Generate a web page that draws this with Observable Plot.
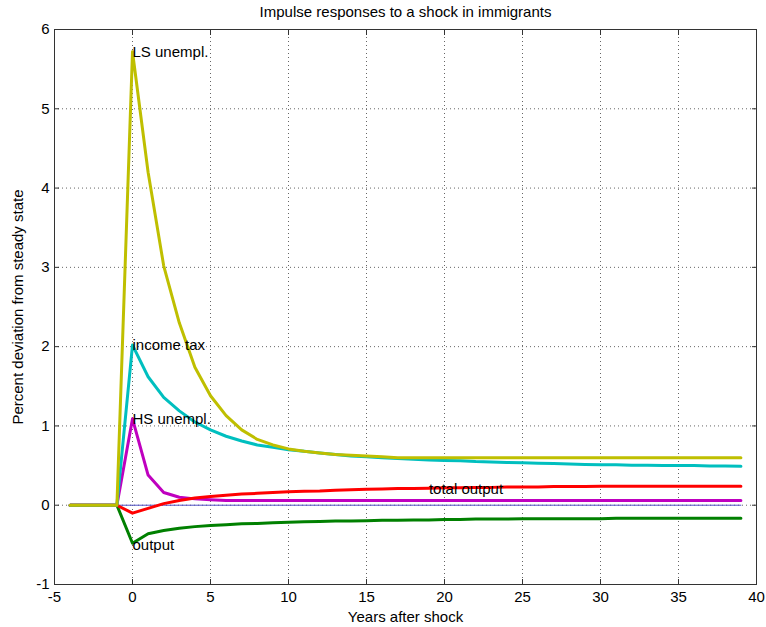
<!DOCTYPE html>
<html>
<head>
<meta charset="utf-8">
<script src="https://cdn.jsdelivr.net/npm/d3@7"></script>
<script src="https://cdn.jsdelivr.net/npm/@observablehq/plot@0.6"></script>
<style>
  html, body { margin: 0; padding: 0; background: #fff; }
  svg text { font-family: "Liberation Sans", Arial, sans-serif; }
</style>
</head>
<body>
<div id="chart"></div>
<script>
const title = "Impulse responses to a shock in immigrants";
const xLabel = "Years after shock";
const yLabel = "Percent deviation from steady state";
const xTicks = [-5, 0, 5, 10, 15, 20, 25, 30, 35, 40];
const yTicks = [-1, 0, 1, 2, 3, 4, 5, 6];

const years = [-4,-3,-2,-1,0,1,2,3,4,5,6,7,8,9,10,11,12,13,14,15,16,17,18,19,20,21,22,23,24,25,26,27,28,29,30,31,32,33,34,35,36,37,38,39];

const lsUnempl = [0,0,0,0,5.72,4.2,3.02,2.3,1.74,1.38,1.13,0.95,0.83,0.76,0.71,0.68,0.66,0.64,0.63,0.62,0.61,0.6,0.6,0.6,0.6,0.6,0.6,0.6,0.6,0.6,0.6,0.6,0.6,0.6,0.6,0.6,0.6,0.6,0.6,0.6,0.6,0.6,0.6,0.6];
const incomeTax = [0,0,0,0,2.02,1.62,1.36,1.19,1.05,0.95,0.87,0.81,0.76,0.73,0.7,0.68,0.66,0.64,0.62,0.61,0.6,0.59,0.58,0.57,0.565,0.56,0.55,0.545,0.54,0.535,0.53,0.525,0.52,0.515,0.51,0.51,0.505,0.505,0.5,0.5,0.5,0.495,0.495,0.49];
const hsUnempl = [0,0,0,0,1.09,0.38,0.16,0.1,0.08,0.07,0.06,0.06,0.06,0.06,0.06,0.06,0.06,0.06,0.06,0.06,0.06,0.06,0.06,0.06,0.06,0.06,0.06,0.06,0.06,0.06,0.06,0.06,0.06,0.06,0.06,0.06,0.06,0.06,0.06,0.06,0.06,0.06,0.06,0.06];
const totalOutput = [0,0,0,0,-0.1,-0.04,0.02,0.06,0.09,0.11,0.125,0.14,0.15,0.16,0.17,0.175,0.18,0.19,0.195,0.2,0.205,0.21,0.21,0.215,0.22,0.22,0.225,0.225,0.23,0.23,0.23,0.235,0.235,0.235,0.24,0.24,0.24,0.24,0.24,0.24,0.24,0.24,0.24,0.24];
const output = [0,0,0,0,-0.48,-0.36,-0.32,-0.29,-0.27,-0.255,-0.245,-0.235,-0.23,-0.22,-0.215,-0.21,-0.205,-0.2,-0.2,-0.195,-0.19,-0.19,-0.185,-0.185,-0.18,-0.18,-0.175,-0.175,-0.175,-0.17,-0.17,-0.17,-0.17,-0.17,-0.17,-0.165,-0.165,-0.165,-0.165,-0.165,-0.165,-0.165,-0.165,-0.165];
const zeroLine = years.map(() => 0);

const labelText = ["LS unempl.", "income tax", "HS unempl.", "output", "total output"];
const labelX = [0, 0, 0, 0, 19];
const labelY = [5.72, 2.02, 1.09, -0.5, 0.2];

const labels = labelText.map((t, i) => ({t, x: labelX[i], y: labelY[i]}));
const fmt = d => String(d);

const chart = Plot.plot({
  width: 766,
  height: 627,
  marginLeft: 54,
  marginRight: 10,
  marginTop: 29,
  marginBottom: 43,
  x: {domain: [-5, 40]},
  y: {domain: [-1, 6]},
  style: {fontFamily: "'Liberation Sans', Arial, sans-serif", fontSize: "15px", color: "#000", background: "#fff"},
  marks: [
    Plot.gridX(xTicks, {stroke: "#666", strokeOpacity: 1, strokeDasharray: "1,3"}),
    Plot.gridY(yTicks, {stroke: "#666", strokeOpacity: 1, strokeDasharray: "1,3"}),
    Plot.lineY(zeroLine, {x: years, stroke: "#5050c8", strokeWidth: 1}),
    Plot.lineY(output, {x: years, stroke: "#008000", strokeWidth: 3}),
    Plot.lineY(hsUnempl, {x: years, stroke: "#bf00bf", strokeWidth: 3}),
    Plot.lineY(totalOutput, {x: years, stroke: "#ff0000", strokeWidth: 3}),
    Plot.lineY(incomeTax, {x: years, stroke: "#00bfbf", strokeWidth: 3}),
    Plot.lineY(lsUnempl, {x: years, stroke: "#bfbf00", strokeWidth: 3}),
    Plot.frame({stroke: "#333"}),
    Plot.axisX(xTicks, {anchor: "bottom", tickSize: -5, tickPadding: 12, tickFormat: fmt, label: null, fontSize: 15, stroke: "#333"}),
    Plot.axisX(xTicks, {anchor: "top", tickSize: -5, tickFormat: null, text: null, label: null, stroke: "#333"}),
    Plot.axisY(yTicks, {anchor: "left", tickSize: -5, tickPadding: 10, tickFormat: fmt, label: null, fontSize: 15, stroke: "#333"}),
    Plot.axisY(yTicks, {anchor: "right", tickSize: -5, tickFormat: null, text: null, label: null, stroke: "#333"}),
    Plot.text(labels, {x: "x", y: "y", text: "t", textAnchor: "start", fontSize: 15, fill: "#000"}),
    Plot.text([title], {frameAnchor: "top", dy: -17, lineAnchor: "middle", fontSize: 15, fill: "#000"}),
    Plot.text([xLabel], {frameAnchor: "bottom", dy: 33, lineAnchor: "middle", fontSize: 15, fill: "#000"}),
    Plot.text([yLabel], {frameAnchor: "left", dx: -36, rotate: -90, textAnchor: "middle", lineAnchor: "middle", fontSize: 15, fill: "#000"})
  ]
});
document.getElementById("chart").appendChild(chart);
</script>
</body>
</html>
